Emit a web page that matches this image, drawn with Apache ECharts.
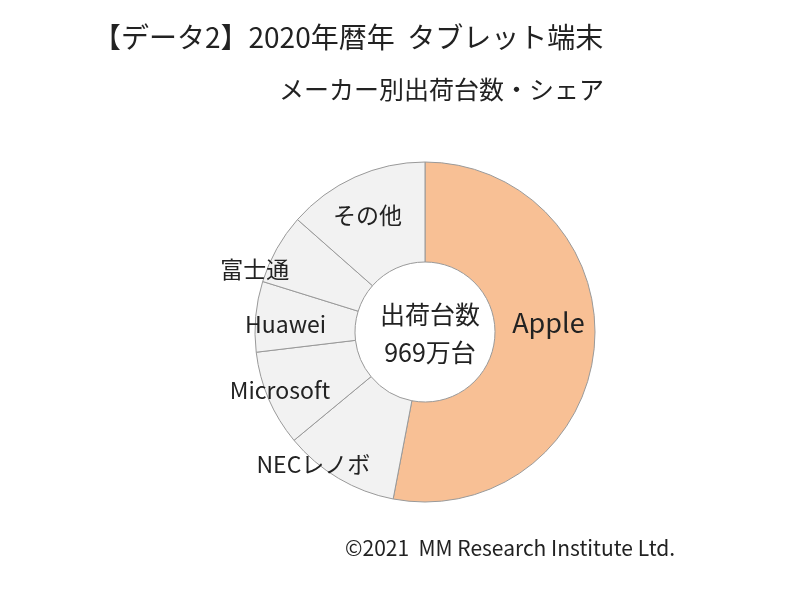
<!DOCTYPE html>
<html lang="ja">
<head>
<meta charset="UTF-8">
<title>タブレット端末 メーカー別出荷台数・シェア</title>
<script src="https://cdn.jsdelivr.net/npm/echarts@6/dist/echarts.min.js"></script>
<style>html,body{margin:0;background:#fff}#main{width:800px;height:600px}</style>
</head>
<body>
<div id="main"></div>
<script>
var makers = ['Apple', 'NECレノボ', 'Microsoft', 'Huawei', '富士通', 'その他'];
var shares = [53.0, 11.0, 9.1, 6.7, 6.7, 13.5];
var sliceColors = ['#F8C095', '#F2F2F2', '#F2F2F2', '#F2F2F2', '#F2F2F2', '#F2F2F2'];
// label nudges so text sits where the original put it
var labelOffsets = [[1, -21], [-49, 26], [-32, 10], [-17, 3], [-63, -2], [-7, -5]];

var myChart = echarts.init(document.getElementById('main'));
var font = '"Noto Sans CJK JP", sans-serif';
var data = [];
for (var i = 0; i < makers.length; i++) {
    data.push({
        name: makers[i],
        value: shares[i],
        itemStyle: {color: sliceColors[i]},
        label: {offset: labelOffsets[i], fontSize: i === 0 ? 27 : 23}
    });
}
myChart.setOption({
    textStyle: {fontFamily: font},
    title: [
        {text: '【データ2】2020年暦年  タブレット端末', left: 88, top: 18,
         textStyle: {fontSize: 28, fontWeight: 'normal', color: '#222', fontFamily: font}},
        {text: 'メーカー別出荷台数・シェア', left: 274, top: 72,
         textStyle: {fontSize: 25, fontWeight: 'normal', color: '#222', fontFamily: font}},
        {text: '出荷台数\n969万台', left: 425, top: 290, textAlign: 'center',
         textStyle: {fontSize: 25, fontWeight: 'normal', color: '#222', lineHeight: 38, fontFamily: font}},
        {text: '©2021  MM Research Institute Ltd.', left: 340, top: 533,
         textStyle: {fontSize: 21, fontWeight: 'normal', color: '#222', fontFamily: font}}
    ],
    series: [{
        type: 'pie',
        center: [425, 332],
        radius: [70, 170],
        startAngle: 90,
        clockwise: true,
        data: data,
        itemStyle: {borderColor: '#999', borderWidth: 1},
        label: {position: 'inside', color: '#222', fontFamily: font},
        labelLine: {show: false},
        emphasis: {disabled: true}
    }]
});
</script>
</body>
</html>
